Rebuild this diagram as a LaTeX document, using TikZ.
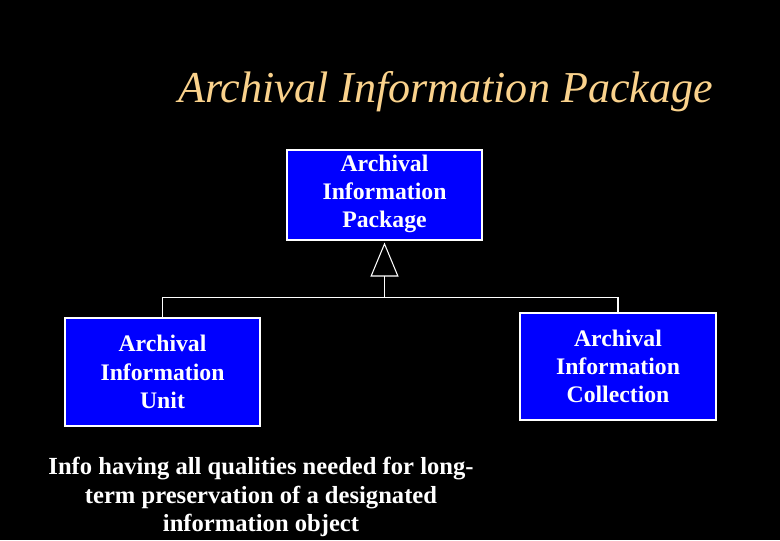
\documentclass[tikz,border=0pt]{standalone}
\usepackage{fontspec}
\setmainfont{Liberation Serif}
\usepackage{tikz}
\usepackage{xcolor}
\usetikzlibrary{arrows.meta, positioning, calc}
\definecolor{cTitle}{RGB}{250,210,140}
\definecolor{cBox}{RGB}{0,0,255}
\tikzset{
	pkgbox/.style ={rectangle, draw=white, line width=0.6pt, fill=cBox, text=white, align=center, inner sep=0pt,
		font=\bfseries\fontsize{13.5}{16}\selectfont},
	wire/.style   ={draw=white, line width=0.6pt},
	inherit/.style={wire, -{Triangle[open, length=0.68cm, width=0.56cm, fill=black]}},
	note/.style   ={text=white, align=center, font=\bfseries\fontsize{14}{16.3}\selectfont},
}
\begin{document}
\begin{tikzpicture}
	\fill[black] (0,0) rectangle (15.6,10.8);
	\useasboundingbox (0,0) rectangle (15.6,10.8);
	% title
	\node[text=cTitle, font=\itshape\fontsize{25.1}{30}\selectfont] (title) at (8.91,8.96) {Archival Information Package};
	% boxes
	\node[pkgbox, minimum width=3.9cm, minimum height=1.8cm, text depth=0.14cm] (aip) at (7.69,6.9) {Archival\\Information\\Package};
	\node[pkgbox, minimum width=3.9cm, minimum height=2.16cm] (aiu) at (3.25,3.36) {Archival\\Information\\Unit};
	\node[pkgbox, minimum width=3.92cm, minimum height=2.14cm] (aic) at (12.36,3.47) {Archival\\Information\\Collection};
	\coordinate[below=1.14cm of aip.south] (join);
	\draw[wire] (aiu.north) |- (join) -| (aic.north);
	\draw[inherit] (join) -- ($(aip.south)+(0,-0.04)$);
	% note under the unit
	\node[note] (info) at (5.22,0.86) {Info having all qualities needed for long-\\term preservation of a designated\\information object};
\end{tikzpicture}
\end{document}
